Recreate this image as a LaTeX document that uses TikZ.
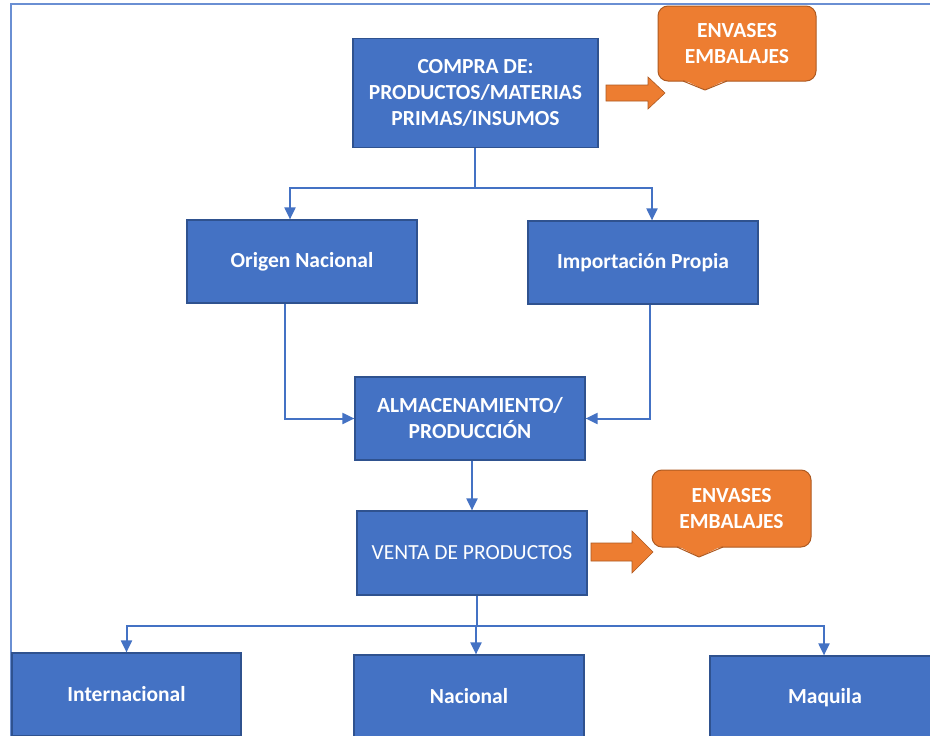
\documentclass[tikz,border=0pt]{standalone}
\usepackage{fontspec}
\setmainfont{Carlito}
\usetikzlibrary{arrows.meta,positioning,calc}
\definecolor{boxblue}{HTML}{4472C4}
\definecolor{boxedge}{HTML}{2F528F}
\definecolor{linkblue}{HTML}{4472C4}
\definecolor{frameblue}{HTML}{6A8FD3}
\definecolor{orfill}{HTML}{ED7D31}
\definecolor{oredge}{HTML}{AE5A21}
\tikzset{
  bluebox/.style={draw=boxedge, line width=1.2pt, fill=boxblue, text=white,
    align=center, inner sep=0pt, font=\bfseries\fontsize{21.5}{26}\selectfont},
  calloutbox/.style={draw=oredge, line width=1pt, fill=orfill, text=white,
    rounded corners=10pt, align=center, inner sep=0pt,
    font=\bfseries\fontsize{21.5}{26}\selectfont},
  link/.style={draw=linkblue, line width=2pt},
  linkarr/.style={link, -{Triangle[length=12pt,width=11pt]}},
  fatarrow/.style={fill=orfill, draw=oredge, line width=0.6pt},
}
\begin{document}
\begin{tikzpicture}[x=1pt,y=-1pt]
\useasboundingbox[fill=white] (0,0) rectangle (930,736);
\clip (0,0) rectangle (930,736);
% frame
\draw[frameblue, line width=1.6pt] (11,740) -- (11,4) -- (934,4);

% boxes
\node[bluebox, minimum width=245pt, minimum height=109pt] (compra) at (475.5,93)
  {COMPRA DE:\\PRODUCTOS/MATERIAS\\PRIMAS/INSUMOS};
\node[bluebox, minimum width=230pt, minimum height=83pt] (origen) at (302,261.5) {Origen Nacional};
\node[bluebox, minimum width=230pt, minimum height=83pt] (import) at (643,262.5) {Importación Propia};
\node[bluebox, minimum width=230pt, minimum height=83pt] (alma) at (470,418.5) {ALMACENAMIENTO/\\PRODUCCIÓN};
\node[bluebox, minimum width=230pt, minimum height=84pt, font=\fontsize{21.5}{26}\selectfont] (venta) at (472,553) {VENTA DE PRODUCTOS};
\node[bluebox, minimum width=229pt, minimum height=83pt] (intl) at (126.5,694.5) {Internacional};
\node[bluebox, minimum width=230pt, minimum height=83pt] (nac) at (469,696.5) {Nacional};
\node[bluebox, minimum width=230pt, minimum height=83pt] (maq) at (825,697.5) {Maquila};

% callouts
\node[calloutbox, minimum width=158pt, minimum height=75pt] (env1) at (737,43.5) {ENVASES\\EMBALAJES};
\fill[orfill] (683,79.5) -- (705,90) -- (727,79.5) -- cycle;
\draw[oredge, line width=1pt, line join=round] (683,81) -- (705,90) -- (727,81);
\node[calloutbox, minimum width=159pt, minimum height=77pt] (env2) at (731.5,508.5) {ENVASES\\EMBALAJES};
\fill[orfill] (677,545.5) -- (699,557) -- (723,545.5) -- cycle;
\draw[oredge, line width=1pt, line join=round] (677,547) -- (699,557) -- (723,547);

% orange block arrows
\path[fatarrow] (606,85) -- (648,85) -- (648,77) -- (665,93) -- (648,109) -- (648,101) -- (606,101) -- cycle;
\path[fatarrow] (591,543) -- (632,543) -- (632,531) -- (653,552) -- (632,573) -- (632,561) -- (591,561) -- cycle;

% connectors
\coordinate (j1) at (475,188);
\draw[link] (compra.south -| j1) -- (j1);
\draw[linkarr] (j1) -| ([xshift=-12pt]origen.north);
\draw[linkarr] (j1) -| ([xshift=9pt]import.north);
\draw[linkarr] ([xshift=-17pt]origen.south) |- (alma.west);
\draw[linkarr] ([xshift=7pt]import.south) |- (alma.east);
\draw[linkarr] (venta.north |- alma.south) -- (venta.north);
\coordinate (j2) at (477,626);
\draw[link] (venta.south -| j2) -- (j2);
\draw[linkarr] (j2) -| (intl.north);
\draw[linkarr] (j2) -| ([xshift=7pt]nac.north);
\draw[linkarr] (j2) -| ([xshift=-1pt]maq.north);
\end{tikzpicture}
\end{document}
